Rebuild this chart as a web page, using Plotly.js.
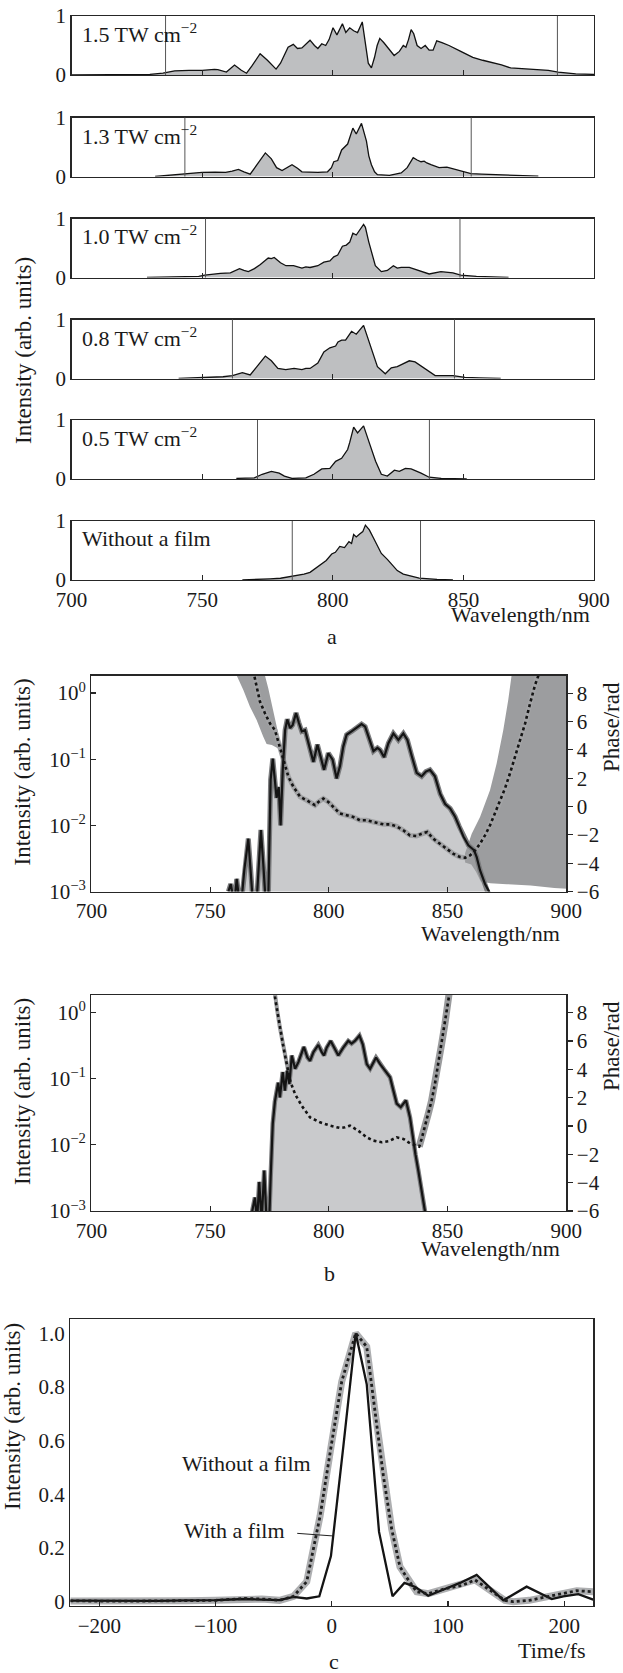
<!DOCTYPE html>
<html><head><meta charset="utf-8">
<script src="https://cdn.plot.ly/plotly-3.0.1.min.js"></script>
<style>html,body{margin:0;padding:0;background:#fff}</style>
</head><body><div id="chart" style="width:623px;height:1673px"></div>
<script>
// ================= DATA =================
// Panel a: spectra [wavelength nm, normalised intensity]
const a15 = [[700,0],[715,0],[725,0.005],[730,0.01],[735,0.03],[739.5,0.07],[745,0.08],[750,0.08],[754.7,0.095],[756,0.09],[759.3,0.05],[762.4,0.17],[765,0.08],[767,0.03],[769,0.15],[772.2,0.36],[775,0.25],[778.3,0.1],[780,0.2],[782.9,0.47],[784.9,0.52],[786.5,0.45],[788.2,0.46],[791.3,0.59],[793,0.5],[794.3,0.45],[795.8,0.53],[797.3,0.5],[798.6,0.6],[800.1,0.8],[801.6,0.68],[803.7,0.87],[805,0.72],[806.5,0.8],[808,0.75],[809.5,0.72],[811.3,0.9],[812.5,0.55],[813.6,0.2],[814.8,0.12],[816,0.3],[817,0.5],[818,0.62],[819.5,0.55],[822.4,0.4],[823.5,0.33],[825.5,0.4],[827,0.5],[828,0.47],[829,0.6],[830,0.77],[831,0.7],[832.3,0.5],[833.8,0.45],[835.4,0.5],[836.9,0.42],[838.4,0.42],[839.8,0.58],[841.8,0.55],[844.5,0.5],[849,0.4],[853.6,0.3],[857.4,0.25],[862.7,0.2],[864.6,0.17],[868.1,0.12],[874.9,0.1],[882.5,0.08],[886.3,0.05],[893,0.02],[900,0.01]];
const a13 = [[732,0],[737,0.02],[743,0.05],[750,0.07],[755,0.075],[759,0.07],[761.5,0.09],[763.9,0.12],[766,0.08],[768.4,0.04],[771,0.2],[774.2,0.4],[776.5,0.3],[778.5,0.15],[780.6,0.1],[782.5,0.15],[784.4,0.2],[786.5,0.14],[788.2,0.08],[791,0.075],[794.3,0.07],[798,0.08],[799.5,0.15],[800.4,0.25],[801.9,0.27],[803.4,0.45],[805.7,0.55],[807.7,0.82],[809,0.72],[811,0.9],[812.9,0.6],[813.8,0.35],[814.8,0.2],[816,0.08],[817.1,0.03],[821.7,0.02],[826.2,0.06],[828.5,0.15],[830.8,0.32],[832.3,0.28],[833.8,0.25],[835,0.26],[836,0.23],[837.6,0.2],[840.7,0.15],[843.7,0.16],[846,0.13],[849,0.1],[852.9,0.05],[857,0.04],[862.7,0.03],[870,0.02],[878.7,0.005]];
const a10 = [[728.9,0],[740,0.01],[748.7,0.02],[751,0.04],[754,0.06],[757,0.07],[760.8,0.08],[764.3,0.15],[766,0.12],[767.7,0.1],[770,0.15],[772.3,0.22],[775.3,0.33],[776.5,0.32],[777.6,0.34],[780,0.25],[782.1,0.2],[785,0.2],[788.2,0.16],[789.7,0.18],[791.3,0.17],[794.3,0.2],[796.6,0.26],[798.9,0.28],[800.4,0.35],[801.9,0.38],[803.7,0.53],[805.2,0.55],[806.5,0.6],[807.7,0.75],[809,0.72],[811.8,0.9],[812.5,0.85],[813.8,0.6],[816.3,0.2],[818.6,0.1],[820.9,0.12],[823.2,0.2],[824.7,0.16],[826.2,0.17],[829.3,0.17],[833.8,0.1],[836.9,0.06],[841.4,0.1],[846,0.08],[849,0.04],[855,0.02],[867.3,0]];
const a08 = [[741,0],[748,0.01],[754.7,0.02],[758,0.03],[761.6,0.05],[765.4,0.1],[768.4,0.06],[771,0.2],[774.2,0.38],[776.5,0.3],[779,0.17],[782,0.15],[785.2,0.17],[788.2,0.15],[789.7,0.17],[791.3,0.17],[794.3,0.26],[796.6,0.45],[798.9,0.52],[801.1,0.55],[802,0.62],[803.4,0.65],[804.9,0.65],[807.2,0.8],[809,0.75],[811.8,0.9],[814.1,0.6],[817.1,0.2],[820.1,0.08],[822.4,0.18],[824.7,0.2],[827,0.25],[829.3,0.3],[831.5,0.28],[836.1,0.15],[839.2,0.05],[846,0.05],[850.6,0.02],[856,0.01],[864.3,0]];
const a05 = [[763.1,0.01],[770,0.02],[773,0.08],[776.5,0.13],[779.5,0.1],[781.5,0.05],[784.4,0.01],[789.7,0.02],[792.8,0.08],[795.8,0.17],[798.9,0.18],[801.1,0.3],[803.4,0.35],[805.7,0.5],[806.5,0.62],[808,0.88],[809.5,0.78],[811.8,0.9],[814.1,0.6],[816.4,0.3],[818.6,0.08],[820.9,0.05],[823.6,0.15],[825.5,0.13],[827.8,0.18],[830,0.17],[833.8,0.1],[836.9,0.03],[841.5,0.01],[851.3,0]];
const a00 = [[765.4,0],[770,0.005],[776,0.02],[780,0.03],[785.2,0.07],[789,0.1],[791.3,0.13],[793.5,0.2],[795.8,0.27],[797.5,0.33],[799.6,0.44],[801,0.47],[802.7,0.57],[804.5,0.55],[806.2,0.65],[807.2,0.62],[808,0.77],[809,0.73],[810.3,0.78],[811.5,0.82],[812.5,0.93],[814,0.85],[815.5,0.72],[817,0.6],[818.6,0.45],[820.9,0.35],[822.4,0.27],[824.7,0.16],[827,0.1],[829.3,0.07],[833.1,0.03],[839.9,0.01],[846,0]];
const aLabels = ['1.5 TW cm<sup>−2</sup>','1.3 TW cm<sup>−2</sup>','1.0 TW cm<sup>−2</sup>','0.8 TW cm<sup>−2</sup>','0.5 TW cm<sup>−2</sup>','Without a film'];
const aMarkers = [[736,886],[743.4,853],[751.3,848.7],[761.6,846.6],[771.2,837],[784.5,833.6]];
const aSpectra = [a15,a13,a10,a08,a05,a00];

// Panel b (upper): with film. intensity [nm, arb], phase [nm, rad]
const b1Int = [[757.7,1.0e-3],[758.7,1.3e-3],[759.5,9e-4],[760.3,7e-4],[761.2,1.55e-3],[762.0,9e-4],[763.2,7e-4],[764.4,2.1e-3],[766.1,6.3e-3],[767.1,2.1e-3],[768.0,7e-4],[769.6,7e-4],[771.4,8.5e-3],[772.4,2.6e-3],[773.4,7e-4],[774.5,7e-4],[775.5,4.9e-2],[776.4,0.102],[777.2,5.4e-2],[778.0,2.6e-2],[778.9,3.8e-2],[779.7,1.0e-2],[780.6,6.9e-2],[781.6,0.275],[782.5,0.40],[783.7,0.295],[784.8,0.33],[786.2,0.50],[787.4,0.355],[788.6,0.263],[790.0,0.275],[791.4,0.174],[793.5,0.091],[795.2,0.166],[796.6,0.11],[798.0,0.069],[799.8,0.123],[801.6,0.098],[803.3,0.051],[804.7,0.078],[806.1,0.155],[807.5,0.234],[809.6,0.263],[811.7,0.295],[813.8,0.339],[815.3,0.31],[816.7,0.219],[818.8,0.132],[820.5,0.148],[821.6,0.138],[823.3,0.107],[825.1,0.174],[827.2,0.245],[829.3,0.195],[831.4,0.245],[833.1,0.195],[835.0,0.11],[837.0,0.062],[839.1,0.055],[840.9,0.065],[842.6,0.069],[844.7,0.055],[846.9,0.030],[849.0,0.021],[851.1,0.018],[853.2,0.0135],[855.0,0.0095],[856.7,0.0068],[858.8,0.0050],[861.2,0.0042],[862.3,0.0033],[863.7,0.0021],[865.8,0.0013],[867.5,0.0010],[869,0.0006]];
const b1Phase = [[768.0,10.0],[768.6,9.25],[769.6,8.47],[771.0,7.41],[773.1,6.58],[775.2,5.87],[777.3,5.40],[778.7,4.57],[780.2,3.75],[781.6,2.80],[783.0,2.09],[785.1,1.39],[787.9,0.68],[790.7,0.44],[792.8,0.21],[794.2,0.09],[795.6,0.32],[797.7,0.56],[799.8,0.32],[801.9,-0.03],[804.7,-0.50],[807.5,-0.62],[810.3,-0.74],[813.1,-0.97],[815.9,-0.97],[818.8,-1.09],[821.6,-1.21],[823.0,-1.26],[825.8,-1.26],[828.6,-1.40],[831.4,-1.68],[834.2,-2.04],[837.0,-2.08],[839.1,-1.92],[841.5,-1.80],[844.0,-2.27],[846.8,-2.63],[849.7,-2.98],[852.5,-3.34],[855.3,-3.57],[857.4,-3.62],[859.5,-3.45],[861.6,-3.10],[863.7,-2.63],[865.8,-2.04],[867.9,-1.33],[870.0,-0.50],[872.1,0.32],[874.2,1.27],[876.3,2.33],[878.4,3.51],[880.6,4.69],[882.7,5.87],[884.8,7.29],[886.9,8.59],[888.3,9.25],[889,10.0]];
// phase uncertainty band edges (upper / lower) [nm, rad]
const b1BandLUp = [[770.5,10.5],[773.1,9.25],[774.5,8.35],[775.9,7.29],[777.3,6.23],[778.7,5.16],[779.4,4.34],[780.5,3.95]];
const b1BandLLo = [[759.5,10.5],[761.2,9.25],[764.0,8.23],[766.8,7.05],[769.6,6.11],[772.4,4.93],[773.8,4.41],[776,4.35],[778.7,4.1],[780.5,3.5]];
const b1BandRUp = [[857.4,-3.3],[860.2,-1.92],[863.7,-0.74],[867.9,1.15],[870.7,3.04],[873.5,5.40],[875.6,7.53],[877.0,9.25],[878,10.5],[905,10.5]];
const b1BandRLo = [[857.4,-3.95],[860,-4.1],[862,-4.6],[864,-5.3],[868,-5.42],[875,-5.48],[885,-5.58],[895,-5.75],[905,-5.85]];

// Panel b (lower): without film
const b2Int = [[767.5,9e-4],[768.9,1.6e-3],[769.8,7e-4],[770.7,2.75e-3],[771.7,7e-4],[772.8,4.1e-3],[773.8,7e-4],[774.9,7e-4],[775.5,3.2e-3],[776.4,2.1e-2],[777.3,4.5e-2],[778.7,8.7e-2],[779.4,5.2e-2],[780.6,0.126],[781.5,6.6e-2],[782.5,0.132],[783.4,8.3e-2],[784.4,0.224],[785.8,0.141],[787.2,0.178],[789.5,0.302],[791.0,0.209],[792.1,0.186],[793.5,0.251],[795.6,0.324],[797.0,0.251],[798.0,0.224],[799.1,0.295],[800.8,0.372],[802.6,0.282],[804.0,0.224],[806.1,0.295],[808.2,0.372],[809.6,0.339],[811.0,0.372],[812.9,0.447],[814.3,0.331],[816.0,0.166],[817.4,0.141],[819.9,0.209],[821.6,0.166],[823.7,0.132],[825.8,0.105],[827.2,0.066],[828.6,0.042],[830.3,0.037],[832.5,0.047],[834.2,0.026],[835.3,0.0132],[836.5,0.0072],[837.7,0.0041],[839.1,0.0020],[840.5,0.0010],[841.5,0.0006]];
const b2Phase = [[776.8,10.0],[777.3,9.13],[778.3,8.12],[779.4,6.95],[780.8,5.66],[782.3,4.37],[783.7,3.19],[785.8,2.25],[788.6,1.43],[792.1,0.61],[796.3,0.26],[800.5,0.03],[804.7,-0.14],[806.8,-0.09],[808.9,0.03],[812.4,-0.33],[816.0,-0.80],[818.8,-1.03],[822.3,-1.15],[825.1,-1.08],[828.6,-0.80],[831.4,-0.91],[834.2,-1.22],[837.0,-1.38],[838.1,-1.45],[839.1,-0.91],[840.5,0.03],[841.9,0.85],[843.3,1.79],[844.7,2.96],[846.1,4.37],[847.5,5.77],[848.9,7.18],[849.9,8.24],[850.6,9.13],[851.2,10.0]];

// Panel c: temporal profiles [fs, arb]
const cWith = [[-225,0.004],[-200,0.003],[-175,0.002],[-150,0.003],[-125,0.005],[-100,0.006],[-75,0.01],[-60,0.008],[-45,0.006],[-33,0.018],[-21.5,0.012],[-10.7,0.02],[-0.7,0.17],[10,0.58],[20.6,1.0],[30.1,0.81],[40.7,0.26],[52.3,0.02],[62.5,0.07],[72,0.055],[83,0.022],[99,0.05],[110.4,0.07],[124.7,0.1],[147.6,0.005],[167.7,0.056],[189.3,0.01],[199.3,0.02],[212.2,0.028],[225,0.008]];
const cWithout = [[-225,0.003],[-200,0.002],[-175,0.002],[-150,0.003],[-125,0.004],[-100,0.005],[-75,0.012],[-60,0.01],[-45,0.005],[-33,0.02],[-21.5,0.075],[-10,0.32],[-0.5,0.58],[8.6,0.82],[20.6,1.0],[30.1,0.95],[37.2,0.71],[44.4,0.47],[51.6,0.27],[58.7,0.13],[64.5,0.09],[73.1,0.037],[83.1,0.03],[98.9,0.05],[111.8,0.06],[123.3,0.081],[149,0.005],[156.2,0.0],[170,0.005],[185,0.019],[199,0.03],[210.8,0.041],[225,0.037]];

const wlTicks = [700,750,800,850,900];
const logTicks = [1e-3,1e-2,1e-1,1];
const logTickText = ['10<sup>−3</sup>','10<sup>−2</sup>','10<sup>−1</sup>','10<sup>0</sup>'];
const phaseTicks = [-6,-4,-2,0,2,4,6,8];
const tTicks = [-200,-100,0,100,200];
const cYTicks = [0,0.2,0.4,0.6,0.8,1.0];
const cYTickText = ['0','0.2','0.4','0.6','0.8','1.0'];

// ================= BUILD =================
const W = 623, H = 1673;
const FONT = 'Liberation Serif, Times New Roman, serif';
const px = X => X / W;
const py = Y => 1 - Y / H;
const xs = a => a.map(p => p[0]);
const ys = a => a.map(p => p[1]);
const LC = '#262626';

function ax(extra) {
  return Object.assign({
    showgrid: false, zeroline: false, showline: true, linecolor: LC, linewidth: 1.4,
    ticks: 'inside', ticklen: 5, tickwidth: 1.1, tickcolor: LC,
    tickfont: {family: FONT, size: 21, color: '#1a1a1a'}, fixedrange: true
  }, extra);
}

const traces = [];
const layout = {
  width: W, height: H, margin: {l: 0, r: 0, t: 0, b: 0},
  paper_bgcolor: '#fff', plot_bgcolor: '#fff', showlegend: false,
  font: {family: FONT, size: 21, color: '#1a1a1a'},
  annotations: [], shapes: []
};
function note(text, X, Y, opts) {
  layout.annotations.push(Object.assign({
    text: text, x: px(X), y: py(Y), xref: 'paper', yref: 'paper',
    xanchor: 'center', yanchor: 'middle',
    showarrow: false, font: {family: FONT, size: 22, color: '#1a1a1a'}
  }, opts || {}));
}
const TITLE = {family: FONT, size: 23, color: '#1a1a1a'};

// ---- Panel a ----
const aTops = [16, 117.5, 218.5, 319.5, 420, 521];
const aH = 59;
aSpectra.forEach((s, i) => {
  const n = i + 1;
  const sx = n === 1 ? '' : n;
  const last = i === 5;
  layout['xaxis' + sx] = ax({domain: [px(71.5), px(594)], range: [700, 900], anchor: 'y' + sx,
    mirror: true, tickvals: last ? wlTicks : [750, 800, 850], showticklabels: last});
  layout['yaxis' + sx] = ax({domain: [py(aTops[i] + aH), py(aTops[i])], range: [0, 1], anchor: 'x' + sx,
    mirror: true, ticks: '', tickvals: [0, 1], ticktext: ['0', '1']});
  traces.push({x: xs(s), y: ys(s), xaxis: 'x' + sx, yaxis: 'y' + sx,
    mode: 'lines', fill: 'tozeroy', fillcolor: '#bebfc1', line: {color: '#111', width: 1.3}, hoverinfo: 'skip'});
  aMarkers[i].forEach(w => layout.shapes.push({type: 'line', xref: 'x' + sx, yref: 'y' + sx + ' domain',
    x0: w, x1: w, y0: 0, y1: 1, line: {color: '#555', width: 1}}));
  note(aLabels[i], 79.5, aTops[i] + 17, {xanchor: 'left'});
});
note('Intensity (arb. units)', 23, 351, {textangle: -90, font: TITLE});
note('Wavelength/nm', 592, 615, {xanchor: 'right'});
note('a', 332, 637);

// ---- Panel b ----
function bPanel(ids, top, bottom, intData, phData, opts) {
  const [xi, yI, yP, yI2, yP2] = ids;
  const dom = [py(bottom), py(top)];
  layout['xaxis' + xi] = ax({domain: [px(91.4), px(566.2)], range: [700, 900], anchor: 'y' + yI, mirror: true, tickvals: wlTicks});
  layout['yaxis' + yI] = ax({domain: dom, type: 'log', range: [-3, 0.265], anchor: 'x' + xi, tickvals: logTicks, ticktext: logTickText});
  layout['yaxis' + yP] = ax({overlaying: 'y' + yI, side: 'right', range: [-6, 9.25], anchor: 'x' + xi, tickvals: phaseTicks, ticks: 'outside'});
  layout['yaxis' + yI2] = {overlaying: 'y' + yI, type: 'log', range: [-3, 0.265], anchor: 'x' + xi, visible: false, fixedrange: true};
  layout['yaxis' + yP2] = {overlaying: 'y' + yI, range: [-6, 9.25], anchor: 'x' + xi, visible: false, fixedrange: true};
  const X = 'x' + xi;
  const fx = xs(intData), fy = ys(intData);
  traces.push({x: [fx[0], ...fx, fx[fx.length - 1]], y: [1e-4, ...fy, 1e-4], xaxis: X, yaxis: 'y' + yI,
    mode: 'lines', fill: 'toself', fillcolor: '#c9cacc', line: {width: 0}, hoverinfo: 'skip'});
  opts.phaseBands(X, 'y' + yP);
  traces.push({x: fx, y: fy, xaxis: X, yaxis: 'y' + yI2, mode: 'lines', line: {color: '#7b7c7e', width: opts.intBandW}, hoverinfo: 'skip'});
  traces.push({x: fx, y: fy, xaxis: X, yaxis: 'y' + yI2, mode: 'lines', line: {color: '#141414', width: 2.2}, hoverinfo: 'skip'});
  traces.push({x: xs(phData), y: ys(phData), xaxis: X, yaxis: 'y' + yP2, mode: 'lines', line: {color: '#141414', width: 2.6, dash: '3px,3px'}, hoverinfo: 'skip'});
}
function poly(up, lo, X, Y, color) {
  const lr = lo.slice().reverse();
  traces.push({x: [...xs(up), ...xs(lr)], y: [...ys(up), ...ys(lr)], xaxis: X, yaxis: Y, mode: 'lines',
    fill: 'toself', fillcolor: color, line: {width: 0}, hoverinfo: 'skip'});
}
bPanel([7, 7, 8, 9, 10], 675.5, 891.5, b1Int, b1Phase, {
  intBandW: 5,
  phaseBands: (X, Y) => {
    poly(b1BandLUp, b1BandLLo, X, Y, '#9c9d9f');
    poly(b1BandRUp, b1BandRLo, X, Y, '#9c9d9f');
    traces.push({x: xs(b1Phase), y: ys(b1Phase), xaxis: X, yaxis: Y, mode: 'lines', line: {color: '#a2a3a5', width: 5}, hoverinfo: 'skip'});
  }
});
bPanel([8, 11, 12, 13, 14], 995, 1211, b2Int, b2Phase, {
  intBandW: 4.5,
  phaseBands: (X, Y) => {
    const left = b2Phase.filter(p => p[0] <= 785.5), right = b2Phase.filter(p => p[0] >= 837.5);
    traces.push({x: xs(left), y: ys(left), xaxis: X, yaxis: Y, mode: 'lines', line: {color: '#9a9b9d', width: 4}, hoverinfo: 'skip'});
    traces.push({x: xs(right), y: ys(right), xaxis: X, yaxis: Y, mode: 'lines', line: {color: '#9a9b9d', width: 7}, hoverinfo: 'skip'});
  }
});
note('Intensity (arb. units)', 22, 772.5, {textangle: -90, font: TITLE});
note('Phase/rad', 611, 727, {textangle: -90, font: TITLE});
note('Wavelength/nm', 562, 933, {xanchor: 'right'});
note('Intensity (arb. units)', 22, 1092, {textangle: -90, font: TITLE});
note('Phase/rad', 611, 1046, {textangle: -90, font: TITLE});
note('Wavelength/nm', 562, 1248, {xanchor: 'right'});
note('b', 330, 1273);

// ---- Panel c ----
layout.xaxis9 = ax({domain: [px(70.3), px(593.2)], range: [-225, 225], anchor: 'y15', mirror: true, tickvals: tTicks});
layout.yaxis15 = ax({domain: [py(1606), py(1319.3)], range: [-0.016, 1.052], anchor: 'x9', mirror: true, ticks: '', tickvals: cYTicks, ticktext: cYTickText});
traces.push({x: xs(cWithout), y: ys(cWithout), xaxis: 'x9', yaxis: 'y15', mode: 'lines', line: {color: '#aeafb1', width: 7}, hoverinfo: 'skip'});
traces.push({x: xs(cWith), y: ys(cWith), xaxis: 'x9', yaxis: 'y15', mode: 'lines', line: {color: '#141414', width: 2.3}, hoverinfo: 'skip'});
traces.push({x: xs(cWithout), y: ys(cWithout), xaxis: 'x9', yaxis: 'y15', mode: 'lines', line: {color: '#1e1e1e', width: 2.8, dash: '3px,3px'}, hoverinfo: 'skip'});
note('Intensity (arb. units)', 12, 1417, {textangle: -90, font: TITLE});
note('Without a film', 246.5, 1463);
note('With a film', 234.5, 1530);
layout.annotations.push({xref: 'x9', yref: 'y15', axref: 'x9', ayref: 'y15', x: 1, y: 0.245, ax: -31, ay: 0.255,
  text: '', showarrow: true, arrowhead: 0, arrowwidth: 1, arrowcolor: '#222', standoff: 0, startstandoff: 0});
note('Time/fs', 588, 1650, {xanchor: 'right'});
note('c', 334, 1661);

Plotly.newPlot('chart', traces, layout, {staticPlot: true, displayModeBar: false});
</script>
</body></html>
